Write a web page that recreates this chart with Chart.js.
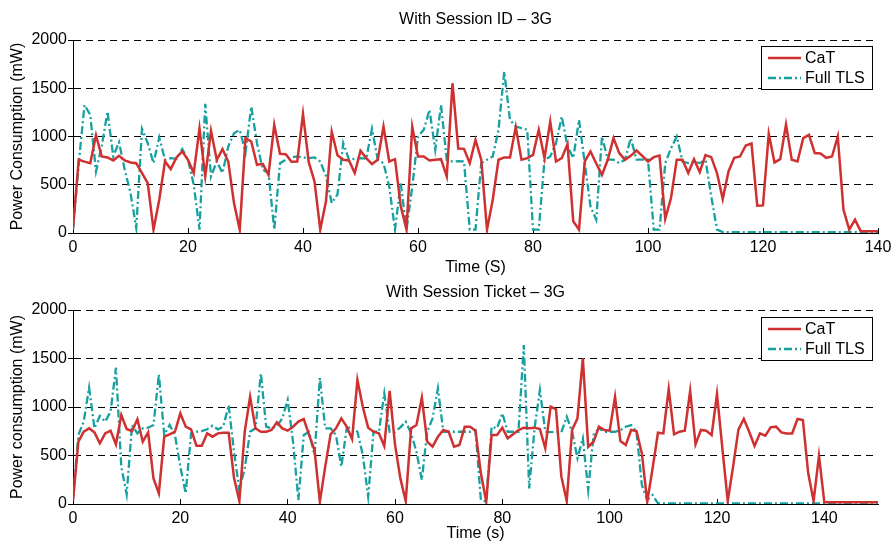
<!DOCTYPE html>
<html>
<head>
<meta charset="utf-8">
<title>Power consumption – 3G</title>
<script src="https://cdn.jsdelivr.net/npm/chart.js@4.4.1/dist/chart.umd.min.js"></script>
<style>
  html, body { margin: 0; padding: 0; background: #fff; }
  #wrap { position: relative; width: 891px; height: 542px; }
  .panel { position: absolute; left: 0; width: 891px; }
  #top { top: 0; height: 277px; }
  #bottom { top: 277px; height: 265px; }
</style>
</head>
<body>
<div id="wrap">
  <div class="panel" id="top"><canvas id="chart-top"></canvas></div>
  <div class="panel" id="bottom"><canvas id="chart-bottom"></canvas></div>
</div>
<script>
// Power draw (mW), one sample per second.

// --- With Session ID (top panel), t = 0..140 s ---
const topCaT = [
  50, 759, 740, 724, 1014, 793, 783, 752, 800, 752,
  731, 724, 620, 517, 35, 345, 741, 662, 783, 845,
  759, 621, 1083, 586, 1059, 759, 869, 741, 310, 35,
  983, 948, 707, 717, 603, 1121, 821, 817, 738, 741,
  1234, 734, 534, 35, 328, 1050, 805, 759, 752, 621,
  852, 776, 714, 759, 1103, 741, 765, 276, 35, 1103,
  793, 793, 752, 759, 765, 586, 1552, 876, 872, 724,
  965, 759, 35, 345, 759, 783, 783, 1097, 759, 776,
  810, 1069, 776, 1155, 741, 776, 921, 121, 35, 741,
  845, 720, 603, 759, 983, 828, 759, 800, 855, 800,
  741, 786, 803, 148, 362, 759, 759, 621, 765, 631,
  807, 786, 621, 352, 638, 779, 793, 907, 927, 283,
  286, 1028, 731, 765, 1124, 759, 741, 983, 1017, 828,
  824, 779, 793, 1000, 241, 35, 138, 17, 17, 17,
  17,
];
const topTLS = [
  35, 720, 1327, 1224, 638, 900, 1259, 793, 941, 655,
  414, 52, 1079, 931, 724, 990, 759, 776, 769, 869,
  759, 500, 35, 1338, 586, 741, 621, 897, 1034, 1069,
  834, 1310, 931, 655, 621, 35, 724, 759, 783, 793,
  783, 776, 783, 741, 586, 310, 400, 931, 760, 770,
  776, 770, 1079, 760, 724, 483, 35, 517, 35, 480,
  1000, 1069, 1276, 862, 1327, 759, 741, 745, 741, 35,
  35, 724, 760, 793, 1069, 1672, 1172, 1103, 1086, 1069,
  35, 35, 759, 793, 931, 1207, 897, 776, 1172, 724,
  276, 138, 1000, 760, 760, 724, 760, 983, 760, 760,
  759, 35, 35, 724, 879, 1000, 741, 724, 741, 724,
  759, 379, 35, 10, 10, 10, 10, 10, 10, 10,
  10, 10, 10, 10, 10, 10, 10, 10, 10, 10,
  10, 10, 10, 10, 10, 10, 10, 10, 10, 10,
  10,
];

// --- With Session Ticket (bottom panel), t = 0..150 s ---
const bottomCaT = [
  31, 642, 745, 780, 738, 625, 728, 756, 615, 917,
  773, 752, 873, 642, 738, 264, 110, 694, 718, 745,
  935, 797, 770, 601, 601, 728, 694, 728, 735, 735,
  271, 31, 745, 1106, 780, 745, 745, 763, 842, 780,
  756, 797, 849, 876, 711, 557, 24, 385, 718, 780,
  883, 797, 670, 1278, 1003, 787, 745, 728, 598, 1165,
  615, 264, 31, 780, 814, 1096, 642, 591, 694, 763,
  745, 591, 608, 797, 797, 756, 316, 24, 711, 711,
  787, 677, 718, 763, 787, 780, 787, 773, 574, 1003,
  976, 282, 31, 763, 883, 1502, 591, 642, 797, 763,
  756, 1106, 649, 608, 763, 752, 522, 24, 368, 735,
  728, 1185, 718, 745, 756, 1165, 615, 763, 756, 711,
  1134, 574, 31, 385, 770, 876, 745, 598, 728, 704,
  790, 797, 738, 728, 728, 876, 866, 316, 31, 498,
  17, 17, 17, 17, 17, 17, 17, 17, 17, 17,
  17,
];
const bottomTLS = [
  58, 711, 850, 1199, 780, 907, 849, 952, 1405, 385,
  100, 814, 728, 780, 787, 814, 1337, 711, 814, 711,
  385, 110, 728, 745, 752, 770, 807, 770, 797, 1020,
  539, 144, 368, 745, 780, 1347, 797, 780, 800, 883,
  1072, 642, 41, 711, 745, 505, 1300, 780, 780, 711,
  385, 780, 797, 745, 505, 76, 745, 745, 1140, 745,
  745, 790, 849, 728, 539, 247, 745, 883, 1192, 745,
  745, 745, 745, 745, 745, 763, 41, 24, 797, 780,
  935, 745, 745, 745, 1639, 161, 780, 1175, 745, 740,
  745, 740, 900, 745, 471, 677, 144, 711, 780, 745,
  745, 745, 760, 797, 814, 745, 196, 41, 93, 7,
  5, 5, 5, 5, 5, 5, 5, 5, 5, 5,
  5, 5, 5, 5, 5, 5, 5, 5, 5, 5,
  5, 5, 5, 5, 5, 5, 5, 5, 5, 5,
  5, 5, 5, 5, 5, 5, 5, 5, 5, 5,
  5,
];

// Axis ticks
const yTicks = [0, 500, 1000, 1500, 2000];
const topXTicks = [0, 20, 40, 60, 80, 100, 120, 140];
const bottomXTicks = [0, 20, 40, 60, 80, 100, 120, 140];

const FONT = "'Liberation Sans', Arial, Helvetica, sans-serif";
const RED = "#cf3030";
const TEAL = "#16a0a0";

// Panel title centred over the plot area (not the whole canvas).
const plotTitle = {
  id: "plotTitle",
  afterDraw(chart, args, opts) {
    const { left, right } = chart.chartArea;
    const ctx = chart.ctx;
    ctx.save();
    ctx.fillStyle = "#000";
    ctx.font = "16px " + FONT;
    ctx.textAlign = "center";
    ctx.textBaseline = "middle";
    ctx.fillText(opts.text, (left + right) / 2, opts.y);
    ctx.restore();
  },
};

// Boxed legend in the upper-right corner of the plot (MATLAB style).
const boxLegend = {
  id: "boxLegend",
  afterDraw(chart, args, opts) {
    const ctx = chart.ctx;
    const { right, top } = chart.chartArea;
    const x = right - 117, y = top + opts.offsetY, w = 111, h = 43;
    ctx.save();
    ctx.fillStyle = "#fff";
    ctx.fillRect(x, y, w, h);
    ctx.strokeStyle = "#000";
    ctx.lineWidth = 1;
    ctx.setLineDash([]);
    ctx.strokeRect(x + 0.5, y + 0.5, w, h);
    chart.data.datasets.forEach((ds, i) => {
      const ly = y + 12 + i * 20;
      ctx.strokeStyle = ds.borderColor;
      ctx.lineWidth = ds.borderWidth;
      ctx.setLineDash(ds.borderDash || []);
      ctx.beginPath();
      ctx.moveTo(x + 7, ly);
      ctx.lineTo(x + 40, ly);
      ctx.stroke();
      ctx.setLineDash([]);
      ctx.fillStyle = "#000";
      ctx.font = "16px " + FONT;
      ctx.textBaseline = "middle";
      ctx.fillText(ds.label, x + 44, ly + 1);
    });
    ctx.restore();
  },
};

function makePanel(canvasId, cfg) {
  const seconds = cfg.cat.map((_, i) => i);
  return new Chart(document.getElementById(canvasId), {
    type: "line",
    data: {
      labels: seconds,
      datasets: [
        {
          label: "CaT", data: cfg.cat, borderColor: RED, backgroundColor: RED,
          borderWidth: 2.5, pointRadius: 0, tension: 0, fill: false,
        },
        {
          label: "Full TLS", data: cfg.tls, borderColor: TEAL, backgroundColor: TEAL,
          borderWidth: 2.3, borderDash: [8, 3, 2, 3], pointRadius: 0, tension: 0, fill: false,
        },
      ],
    },
    options: {
      responsive: true,
      maintainAspectRatio: false,
      animation: false,
      events: [],
      layout: { padding: { left: 0, right: 13, top: cfg.plotTop, bottom: 0 } },
      plugins: {
        legend: { display: false },
        tooltip: { enabled: false },
        title: { display: false },
        plotTitle: { text: cfg.title, y: cfg.titleY },
        boxLegend: { offsetY: cfg.legendY },
      },
      scales: {
        x: {
          type: "linear", min: 0, max: cfg.xMax,
          afterBuildTicks: (s) => { s.ticks = cfg.xTicks.map((v) => ({ value: v })); },
          afterFit: (s) => {
            s.height = cfg.xHeight;
            // let the last tick label overhang instead of shrinking the plot
            s.paddingLeft = 0;
            s.paddingRight = 0;
          },
          ticks: { color: "#000", font: { family: FONT, size: 16 }, padding: cfg.xTickPad, maxRotation: 0 },
          grid: { drawOnChartArea: false, drawTicks: true, tickLength: -5, tickColor: "#000" },
          border: { display: true, color: "#000", width: 1 },
          title: {
            display: true, text: cfg.xTitle, color: "#000",
            font: { family: FONT, size: 16, lineHeight: 1 }, padding: { top: 0, bottom: cfg.xTitlePad },
          },
        },
        y: {
          min: 0, max: 2000,
          afterBuildTicks: (s) => { s.ticks = yTicks.map((v) => ({ value: v })); },
          afterFit: (s) => { s.width = 73; },
          ticks: {
            color: "#000", font: { family: FONT, size: 16 }, padding: 1,
            callback: (v) => String(v),
          },
          grid: { color: "#000", lineWidth: 1, drawTicks: true, tickLength: 5, tickColor: "#000", tickBorderDash: [] },
          border: { display: true, color: "#000", width: 1, dash: [7, 5] },
          title: {
            display: true, text: cfg.yTitle, color: "#000",
            font: { family: FONT, size: 16, lineHeight: 1 }, padding: { top: 10, bottom: 0 },
          },
        },
      },
    },
    plugins: [plotTitle, boxLegend],
  });
}

makePanel("chart-top", {
  title: "With Session ID \u2013 3G",
  xTitle: "Time (S)",
  yTitle: "Power Consumption (mW)",
  cat: topCaT, tls: topTLS,
  xMax: 140, xTicks: topXTicks,
  plotTop: 40, titleY: 20,
  xHeight: 44, xTickPad: 10, xTitlePad: 1,
  legendY: 6,
});

makePanel("chart-bottom", {
  title: "With Session Ticket \u2013 3G",
  xTitle: "Time (s)",
  yTitle: "Power consumption (mW)",
  cat: bottomCaT, tls: bottomTLS,
  xMax: 150, xTicks: bottomXTicks,
  plotTop: 33, titleY: 16,
  xHeight: 38, xTickPad: 10, xTitlePad: 0,
  legendY: 7,
});
</script>
</body>
</html>
